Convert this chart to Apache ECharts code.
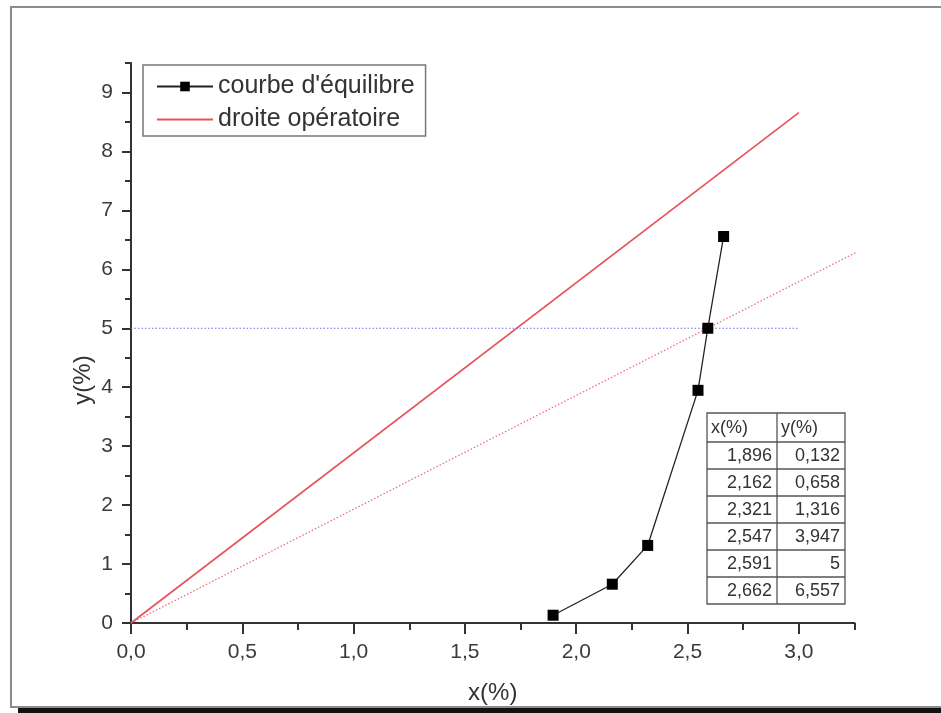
<!DOCTYPE html>
<html>
<head>
<meta charset="utf-8">
<script src="https://cdn.jsdelivr.net/npm/echarts@6.0.0/dist/echarts.min.js"></script>
<style>
  html, body { margin: 0; padding: 0; background: #fff; }
  #main { width: 941px; height: 713px; }
</style>
</head>
<body>
<div id="main"></div>
<script>
// courbe d'équilibre (valeurs du tableau)
var xEq = [1.896, 2.162, 2.321, 2.547, 2.591, 2.662];
var yEq = [0.132, 0.658, 1.316, 3.947, 5, 6.557];
// droite opératoire
var opX = [0, 3.0];
var opY = [0, 8.66];
// droite minimale (pointillés)
var minX = [0, 3.3];
var minY = [0, 6.37];
// y = 5
var targetX = [0, 3.0];
var targetY = 5;
// graduations
var xTicks = [0, 0.5, 1.0, 1.5, 2.0, 2.5, 3.0];
var yTicks = [0, 1, 2, 3, 4, 5, 6, 7, 8, 9];

var FONT = 'Liberation Sans, Arial, Helvetica, sans-serif';

function fr(v) {
    return String(v).replace('.', ',');
}
function pairs(xs, ys) {
    return xs.map(function (x, i) { return [x, Array.isArray(ys) ? ys[i] : ys]; });
}

// tableau x / y
function buildTable() {
    var left = 707, top = 413, colW = [70, 68], headH = 29, rowH = 27;
    var els = [];
    var rows = [['x(%)', 'y(%)']].concat(xEq.map(function (x, i) { return [fr(x), fr(yEq[i])]; }));
    var totalW = colW[0] + colW[1];
    var totalH = headH + rowH * xEq.length;
    var y = top;
    rows.forEach(function (r, i) {
        var h = i === 0 ? headH : rowH;
        var x = left;
        r.forEach(function (txt, j) {
            els.push({
                type: 'text',
                style: {
                    text: txt,
                    x: i === 0 ? x + 4 : x + colW[j] - 5,
                    y: y + h / 2 + 1,
                    align: i === 0 ? 'left' : 'right',
                    verticalAlign: 'middle',
                    font: '18px ' + FONT,
                    fill: '#333'
                }
            });
            x += colW[j];
        });
        y += h;
        if (i < rows.length - 1) {
            els.push({ type: 'line', shape: { x1: left, y1: y, x2: left + totalW, y2: y }, style: { stroke: '#555', lineWidth: 1.3 } });
        }
    });
    els.push({ type: 'rect', shape: { x: left, y: top, width: totalW, height: totalH }, style: { fill: null, stroke: '#555', lineWidth: 1.3 } });
    els.push({ type: 'line', shape: { x1: left + colW[0], y1: top, x2: left + colW[0], y2: top + totalH }, style: { stroke: '#555', lineWidth: 1.3 } });
    return els;
}

var myChart = echarts.init(document.getElementById('main'));
var option = {
    animation: false,
    backgroundColor: '#fff',
    grid: {
        left: 131,
        right: 86.5,
        top: 63,
        bottom: 90,
        outerBoundsMode: 'none'
    },
    legend: {
        orient: 'vertical',
        left: 143,
        top: 65,
        data: [
            "courbe d'équilibre",
            { name: 'droite opératoire', itemStyle: { opacity: 0 } }
        ],
        itemWidth: 56,
        itemHeight: 12,
        itemGap: 8,
        padding: [9, 11, 4, 13],
        borderColor: '#777',
        borderWidth: 1.5,
        textStyle: { fontSize: 25, color: '#333', fontFamily: FONT }
    },
    xAxis: [
        {
            type: 'value',
            min: 0,
            max: 3.25,
            interval: 0.5,
            name: 'x(%)',
            nameLocation: 'middle',
            nameGap: 58,
            nameTextStyle: { fontSize: 24, color: '#333', fontFamily: FONT },
            axisLine: { show: true, onZero: false, lineStyle: { color: '#333', width: 2 } },
            axisTick: { show: true, inside: false, length: 11, customValues: xTicks, lineStyle: { color: '#333', width: 2 } },
            axisLabel: {
                customValues: xTicks,
                margin: 19,
                fontSize: 21,
                color: '#3a3a3a',
                fontFamily: FONT,
                formatter: function (v) { return v.toFixed(1).replace('.', ','); }
            },
            splitLine: { show: false }
        },
        {
            type: 'value',
            min: 0,
            max: 3.25,
            interval: 0.25,
            position: 'bottom',
            axisLine: { show: false, onZero: false },
            axisTick: { show: true, length: 7, lineStyle: { color: '#333', width: 2 } },
            axisLabel: { show: false },
            splitLine: { show: false }
        }
    ],
    yAxis: [
        {
            type: 'value',
            min: 0,
            max: 9.5,
            interval: 1,
            axisLine: { show: true, onZero: false, lineStyle: { color: '#333', width: 2 } },
            axisTick: { show: true, inside: false, length: 9, customValues: yTicks, lineStyle: { color: '#333', width: 2 } },
            axisLabel: {
                customValues: yTicks,
                margin: 18,
                fontSize: 21,
                color: '#3a3a3a',
                fontFamily: FONT
            },
            splitLine: { show: false }
        },
        {
            type: 'value',
            min: 0,
            max: 9.5,
            interval: 0.5,
            position: 'left',
            axisLine: { show: false, onZero: false },
            axisTick: { show: true, length: 6, lineStyle: { color: '#333', width: 2 } },
            axisLabel: { show: false },
            splitLine: { show: false }
        }
    ],
    series: [
        {
            name: 'droite opératoire',
            type: 'line',
            symbol: 'none',
            color: '#e8505b',
            lineStyle: { color: '#e8505b', width: 1.6 },
            data: pairs(opX, opY),
            z: 2
        },
        {
            name: 'droite minimale',
            type: 'line',
            symbol: 'none',
            clip: false,
            color: '#ee6670',
            lineStyle: { color: '#ee6670', width: 1.2, type: [1.5, 2] },
            data: pairs(minX, minY),
            z: 2
        },
        {
            name: 'y = 5',
            type: 'line',
            symbol: 'none',
            color: '#6f6ff0',
            lineStyle: { color: '#6f6ff0', width: 1.2, type: [1.5, 2] },
            data: pairs(targetX, targetY),
            z: 2
        },
        {
            name: "courbe d'équilibre",
            type: 'line',
            symbol: 'rect',
            symbolSize: 11,
            color: '#000',
            itemStyle: { color: '#000' },
            lineStyle: { color: '#222', width: 1.3 },
            data: pairs(xEq, yEq),
            z: 5
        }
    ],
    graphic: [
        // cadre gris
        { type: 'rect', z: 0, shape: { x: 11, y: 7, width: 960, height: 700 }, style: { fill: null, stroke: '#8c8c8c', lineWidth: 2 } },
        // bande noire en bas
        { type: 'rect', z: 0, shape: { x: 18, y: 708, width: 940, height: 6 }, style: { fill: '#111' } },
        // titre de l'axe y
        {
            type: 'text',
            x: 83,
            y: 380,
            rotation: Math.PI / 2,
            style: { text: 'y(%)', align: 'center', verticalAlign: 'middle', font: '24px ' + FONT, fill: '#333' }
        }
    ].concat(buildTable())
};
myChart.setOption(option);
</script>
</body>
</html>
